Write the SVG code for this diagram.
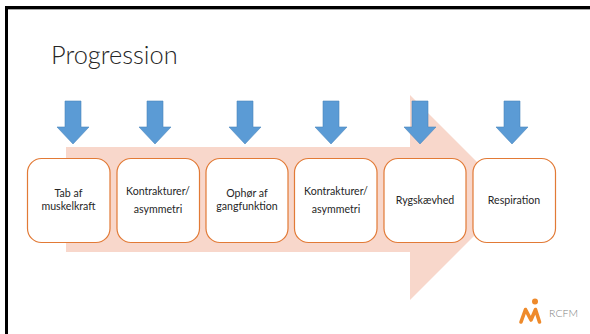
<svg xmlns="http://www.w3.org/2000/svg" width="590" height="334" viewBox="0 0 590 334">
<style>
.box{fill:#fff;stroke:#e27a36;stroke-width:1.2}
.arr{fill:#5b9bd5;stroke:#4a86bd;stroke-width:.6}
text{font-family:"Lato","Open Sans","Liberation Sans",sans-serif;fill:#262626;font-size:10.6px;text-anchor:middle}
</style>
<rect width="590" height="334" fill="#fff"/>
<path d="M5 334V6H590V9H8V334Z" fill="#000"/>
<path d="M8 9.5H590" stroke="#a6a6a6" stroke-width="1"/>
<text x="51" y="64" style="font-size:25.4px;font-weight:300;text-anchor:start">Progression</text>
<path id="band" d="M66 147H410V95L512.5 197.5L410 300V252H66Z" fill="#f8d7cb"/>
<g id="arrows">
<path id="a1" class="arr" d="M65 101H81V127H89L73 144L57 127H65Z"/>
<path id="a2" class="arr" d="M147 101H163V127H171L155 144L139 127H147Z"/>
<path id="a3" class="arr" d="M237 101H253V127H261L245 144L229 127H237Z"/>
<path id="a4" class="arr" d="M323 101H339V127H347L331 144L315 127H323Z"/>
<path id="a5" class="arr" d="M412 101H428V127H436L420 144L404 127H412Z"/>
<path id="a6" class="arr" d="M504 101H520V127H528L512 144L496 127H504Z"/>
</g>
<g id="n1"><rect class="box" x="27.500" y="158.500" width="82.500" height="84" rx="14"/><text x="68.500" y="197">Tab af</text><text x="68.500" y="210">muskelkraft</text></g>
<g id="n2"><rect class="box" x="117" y="158.500" width="82.500" height="84" rx="14"/><text x="158" y="195">Kontrakturer/</text><text x="158" y="213">asymmetri</text></g>
<g id="n3"><rect class="box" x="206" y="158.500" width="82" height="84" rx="14"/><text x="247" y="197">Ophør af</text><text x="247" y="210">gangfunktion</text></g>
<g id="n4"><rect class="box" x="294.500" y="158.500" width="82.500" height="84" rx="14"/><text x="336" y="195">Kontrakturer/</text><text x="336" y="213">asymmetri</text></g>
<g id="n5"><rect class="box" x="384" y="158.500" width="82" height="84" rx="14"/><text x="425" y="204">Rygskævhed</text></g>
<g id="n6"><rect class="box" x="473" y="158.500" width="82.500" height="84" rx="14"/><text x="514" y="204">Respiration</text></g>
<g id="logo">
<circle cx="535" cy="301.500" r="3" fill="#ee8a2b"/>
<path d="M521 322L525.500 309.500L531 320L535.500 309.500L539.500 322" fill="none" stroke="#ee8a2b" stroke-width="3.600" stroke-linejoin="round" stroke-linecap="round"/>
<text x="563.500" y="317" style="font-size:10.500px;fill:#7f7f7f;font-weight:300">RCFM</text>
</g>
</svg>
